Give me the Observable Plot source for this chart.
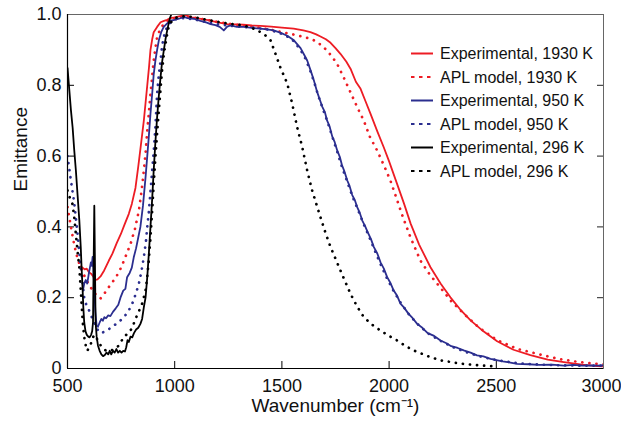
<!DOCTYPE html>
<html>
<head>
<meta charset="utf-8">
<script src="https://cdn.jsdelivr.net/npm/d3@7"></script>
<script src="https://cdn.jsdelivr.net/npm/@observablehq/plot@0.6"></script>
<style>
  html, body { margin: 0; padding: 0; background: #fff; }
  #chart { width: 621px; height: 428px; }
</style>
</head>
<body>
<div id="chart"></div>
<script>
// ---- tick values ----
const xTicks = [500, 1000, 1500, 2000, 2500];
const xLastTick = [3000];
const yTicks = [0, 0.2, 0.4, 0.6, 0.8, 1.0];
const xInnerTicks = [1000, 1500, 2000, 2500];
const yInnerTicks = [0.2, 0.4, 0.6, 0.8];

// ---- series: [wavenumber, emittance] ----
const exp1930 = [[560,0.29],[570,0.285],[580,0.28],[590,0.282],[600,0.272],[610,0.268],[620,0.26],[630,0.25],[640,0.252],[654,0.26],[671,0.277],[693,0.305],[710,0.325],[730,0.355],[749,0.38],[765,0.405],[786,0.437],[800,0.465],[817,0.51],[830,0.57],[840,0.62],[848,0.66],[856,0.70],[864,0.75],[872,0.80],[880,0.85],[887,0.90],[895,0.93],[902,0.95],[918,0.965],[934,0.978],[950,0.982],[965,0.985],[980,0.99],[1000,0.992],[1020,0.995],[1050,0.998],[1080,0.992],[1100,0.99],[1130,0.987],[1167,0.983],[1200,0.978],[1245,0.973],[1280,0.972],[1320,0.971],[1360,0.969],[1400,0.968],[1450,0.966],[1500,0.963],[1555,0.96],[1600,0.955],[1633,0.95],[1660,0.944],[1680,0.938],[1705,0.93],[1727,0.92],[1750,0.905],[1773,0.889],[1800,0.867],[1820,0.847],[1845,0.81],[1867,0.79],[1890,0.755],[1913,0.72],[1945,0.67],[1975,0.625],[2000,0.585],[2038,0.52],[2070,0.465],[2100,0.41],[2140,0.35],[2193,0.286],[2240,0.24],[2286,0.201],[2330,0.168],[2380,0.136],[2440,0.105],[2504,0.077],[2580,0.053],[2659,0.038],[2740,0.025],[2815,0.018],[2900,0.011],[2970,0.007],[3000,0.006]];

const apl1930 = [[500,0.456],[516,0.40],[531,0.35],[547,0.31],[562,0.285],[580,0.26],[600,0.237],[620,0.218],[640,0.203],[654,0.198],[670,0.21],[690,0.228],[710,0.244],[730,0.262],[750,0.285],[770,0.315],[794,0.352],[815,0.395],[833,0.446],[845,0.50],[856,0.559],[865,0.615],[872,0.672],[880,0.725],[887,0.776],[895,0.825],[902,0.87],[910,0.905],[918,0.936],[933,0.96],[949,0.973],[970,0.982],[1000,0.99],[1050,0.994],[1100,0.99],[1167,0.983],[1200,0.979],[1250,0.974],[1300,0.97],[1350,0.966],[1400,0.962],[1450,0.957],[1500,0.95],[1550,0.944],[1600,0.937],[1640,0.93],[1665,0.922],[1690,0.91],[1711,0.898],[1735,0.88],[1758,0.86],[1790,0.82],[1820,0.78],[1850,0.74],[1882,0.70],[1910,0.655],[1944,0.616],[1975,0.575],[2006,0.531],[2035,0.48],[2060,0.435],[2100,0.37],[2146,0.305],[2190,0.265],[2240,0.228],[2290,0.19],[2348,0.155],[2420,0.115],[2504,0.08],[2600,0.055],[2721,0.037],[2800,0.026],[2877,0.019],[2970,0.013],[3000,0.012]];

const exp950 = [[572,0.22],[578,0.24],[585,0.25],[592,0.24],[600,0.27],[609,0.30],[613,0.29],[617,0.315],[621,0.28],[625,0.22],[630,0.16],[636,0.12],[642,0.118],[650,0.13],[658,0.14],[665,0.135],[672,0.145],[680,0.142],[690,0.15],[700,0.148],[712,0.16],[725,0.17],[737,0.18],[747,0.2],[760,0.22],[770,0.225],[778,0.258],[790,0.27],[800,0.285],[809,0.314],[820,0.34],[830,0.37],[840,0.40],[852,0.46],[864,0.54],[872,0.60],[879,0.653],[887,0.72],[895,0.776],[902,0.83],[910,0.87],[918,0.9],[926,0.927],[937,0.95],[949,0.965],[965,0.975],[980,0.983],[1000,0.985],[1020,0.988],[1042,0.993],[1060,0.99],[1089,0.988],[1120,0.982],[1150,0.977],[1167,0.973],[1190,0.97],[1210,0.965],[1229,0.955],[1245,0.966],[1260,0.969],[1290,0.965],[1322,0.965],[1360,0.962],[1400,0.96],[1430,0.958],[1462,0.955],[1495,0.948],[1525,0.94],[1556,0.927],[1587,0.905],[1605,0.885],[1618,0.87],[1635,0.84],[1649,0.814],[1665,0.78],[1688,0.74],[1700,0.725],[1711,0.70],[1722,0.685],[1735,0.655],[1746,0.64],[1758,0.616],[1770,0.598],[1780,0.575],[1792,0.556],[1805,0.531],[1816,0.515],[1828,0.49],[1840,0.476],[1851,0.456],[1863,0.44],[1875,0.418],[1888,0.402],[1900,0.385],[1915,0.366],[1929,0.343],[1945,0.325],[1960,0.3],[1975,0.283],[1991,0.258],[2005,0.243],[2020,0.222],[2036,0.207],[2053,0.183],[2070,0.172],[2090,0.155],[2110,0.142],[2131,0.126],[2155,0.115],[2180,0.1],[2210,0.092],[2240,0.079],[2265,0.072],[2290,0.063],[2320,0.058],[2348,0.051],[2380,0.045],[2410,0.037],[2440,0.034],[2473,0.027],[2500,0.024],[2530,0.02],[2560,0.017],[2597,0.013],[2650,0.012],[2700,0.01],[2760,0.011],[2815,0.008],[2860,0.01],[2900,0.008],[2940,0.009],[2970,0.008],[3000,0.009]];

const apl950 = [[500,0.60],[508,0.565],[516,0.53],[531,0.47],[547,0.38],[562,0.285],[578,0.20],[590,0.175],[600,0.165],[620,0.135],[640,0.11],[655,0.10],[669,0.103],[690,0.11],[716,0.121],[740,0.132],[763,0.145],[785,0.163],[802,0.183],[818,0.21],[833,0.24],[845,0.275],[856,0.314],[866,0.36],[872,0.40],[879,0.44],[887,0.50],[895,0.559],[903,0.62],[910,0.682],[918,0.776],[926,0.83],[934,0.87],[941,0.91],[949,0.936],[960,0.958],[972,0.973],[990,0.982],[1010,0.988],[1050,0.99],[1100,0.985],[1160,0.977],[1200,0.972],[1260,0.968],[1320,0.965],[1380,0.962],[1430,0.958],[1480,0.95],[1520,0.94],[1555,0.925],[1587,0.90],[1610,0.875],[1630,0.845],[1650,0.81],[1670,0.77],[1690,0.735],[1711,0.70],[1735,0.655],[1758,0.612],[1780,0.57],[1805,0.527],[1830,0.485],[1855,0.448],[1880,0.41],[1905,0.375],[1930,0.338],[1960,0.295],[1990,0.255],[2020,0.22],[2055,0.185],[2090,0.155],[2130,0.127],[2180,0.1],[2240,0.078],[2300,0.06],[2360,0.046],[2420,0.035],[2480,0.026],[2550,0.019],[2620,0.014],[2700,0.011],[2800,0.009],[2900,0.008],[3000,0.008]];

const exp296 = [[500,0.85],[508,0.79],[516,0.73],[524,0.68],[531,0.62],[539,0.56],[547,0.49],[555,0.42],[562,0.34],[566,0.28],[570,0.23],[574,0.17],[578,0.13],[584,0.105],[590,0.095],[597,0.09],[603,0.088],[610,0.095],[615,0.105],[619,0.13],[622,0.3],[625,0.46],[628,0.3],[631,0.13],[636,0.09],[642,0.065],[650,0.05],[658,0.04],[666,0.035],[674,0.038],[682,0.045],[690,0.04],[697,0.05],[704,0.04],[712,0.05],[720,0.045],[728,0.055],[736,0.045],[744,0.05],[752,0.045],[760,0.05],[768,0.048],[774,0.06],[780,0.08],[786,0.075],[794,0.09],[802,0.088],[810,0.1],[820,0.11],[830,0.115],[840,0.126],[848,0.14],[856,0.173],[864,0.2],[872,0.258],[880,0.33],[887,0.40],[895,0.48],[902,0.559],[910,0.64],[918,0.71],[926,0.77],[934,0.823],[941,0.865],[949,0.898],[957,0.93],[965,0.955],[972,0.975],[978,0.99],[984,1.0]];

const apl296 = [[500,0.503],[512,0.48],[523,0.465],[531,0.43],[539,0.38],[547,0.33],[555,0.286],[562,0.22],[568,0.16],[573,0.117],[580,0.08],[587,0.06],[593,0.05],[600,0.06],[609,0.07],[617,0.085],[624,0.095],[632,0.09],[645,0.075],[660,0.06],[680,0.05],[700,0.05],[720,0.055],[740,0.065],[763,0.09],[785,0.1],[802,0.115],[817,0.14],[832,0.16],[848,0.183],[864,0.22],[872,0.26],[879,0.305],[887,0.37],[895,0.446],[902,0.52],[910,0.597],[918,0.665],[926,0.729],[934,0.79],[941,0.842],[949,0.885],[957,0.917],[965,0.945],[972,0.965],[985,0.98],[1000,0.99],[1040,0.995],[1089,0.993],[1130,0.987],[1167,0.983],[1213,0.978],[1270,0.973],[1322,0.969],[1360,0.962],[1385,0.955],[1416,0.945],[1447,0.927],[1470,0.889],[1493,0.85],[1525,0.805],[1548,0.748],[1571,0.682],[1595,0.625],[1618,0.559],[1641,0.503],[1665,0.456],[1680,0.427],[1705,0.38],[1727,0.343],[1750,0.31],[1773,0.277],[1797,0.243],[1820,0.211],[1850,0.176],[1882,0.145],[1920,0.124],[1960,0.107],[2000,0.092],[2038,0.079],[2075,0.064],[2115,0.051],[2180,0.035],[2240,0.023],[2300,0.017],[2348,0.013],[2400,0.01],[2440,0.008],[2500,0.006]];

// ---- legend ----
const legendLabels = ["Experimental, 1930 K", "APL model, 1930 K", "Experimental, 950 K", "APL model, 950 K", "Experimental, 296 K", "APL model, 296 K"];
const seriesData = [exp1930, apl1930, exp950, apl950, exp296, apl296];
const seriesColors = ["#ed1c24", "#ed1c24", "#2b2e8f", "#2b2e8f", "#000000", "#000000"];
const seriesDotted = [false, true, false, true, false, true];

const W = 621, H = 428;
const mT = 14, mR = 18, mB = 60, mL = 67;
const plotW = W - mL - mR, plotH = H - mT - mB;
const font = "'Liberation Sans', Arial, Helvetica, sans-serif";

const lineMarks = seriesData.map((d, i) => Plot.line(d, {
  x: p => p[0], y: p => p[1],
  stroke: seriesColors[i],
  strokeWidth: seriesDotted[i] ? 2.7 : 1.8,
  strokeDasharray: seriesDotted[i] ? "0.1,7" : null,
  strokeLinecap: seriesDotted[i] ? "round" : "butt",
  clip: true
}));

const chart = Plot.plot({
  width: W, height: H,
  marginTop: mT, marginRight: mR, marginBottom: mB, marginLeft: mL,
  style: { fontFamily: font, fontSize: "18px", color: "#111", background: "#fff", overflow: "visible" },
  x: { domain: [500, 3000] },
  y: { domain: [0, 1] },
  marks: [
    Plot.axisX(xTicks, { tickSize: 0, tickPadding: 11, label: null, fontSize: 18, tickFormat: d => String(d) }),
    Plot.axisX(xLastTick, { tickSize: 0, tickPadding: 11, label: null, fontSize: 18, tickFormat: d => String(d), dx: -2 }),
    Plot.axisY(yTicks, { tickSize: 0, tickPadding: 6, label: null, fontSize: 18,
      tickFormat: d => d === 0 ? "0" : d.toFixed(1) }),
    Plot.ruleX(xInnerTicks, { x: d => d, stroke: "#000", strokeWidth: 1, insetTop: plotH - 7 }),
    Plot.ruleY(yInnerTicks, { y: d => d, stroke: "#000", strokeWidth: 1, insetRight: plotW - 7 }),
    Plot.ruleY(yInnerTicks, { y: d => d, stroke: "#222", strokeWidth: 1, insetLeft: plotW - 6 }),
    ...lineMarks,
    Plot.frame({ stroke: "#666", strokeWidth: 1 }),
    Plot.ruleX([500], { stroke: "#000", strokeWidth: 1.2 }),
    Plot.ruleY([0], { stroke: "#000", strokeWidth: 1.2 }),
    Plot.text(["Wavenumber (cm\u207B\u00B9)"], { frameAnchor: "bottom", dy: 43, fontSize: 19, fill: "#111" }),
    Plot.text(["Emittance"], { frameAnchor: "left", rotate: -90, dx: -47, fontSize: 19, fill: "#111" })
  ]
});

// legend drawn into the same svg
const svg = d3.select(chart);
const lg = svg.append("g").attr("font-family", font).attr("font-size", 16).attr("fill", "#111").attr("text-anchor", "start");
const rowY0 = 53.5, rowStep = 23.5;
legendLabels.forEach((label, i) => {
  const y = rowY0 + i * rowStep;
  lg.append("line")
    .attr("x1", 411).attr("x2", 433).attr("y1", y).attr("y2", y)
    .attr("stroke", seriesColors[i])
    .attr("stroke-width", 2)
    .attr("stroke-dasharray", seriesDotted[i] ? "3.5,4.5" : null);
  lg.append("text").attr("x", 440).attr("y", y).attr("dy", "0.36em").attr("text-anchor", "start").text(label);
});

document.getElementById("chart").appendChild(chart);
</script>
</body>
</html>
